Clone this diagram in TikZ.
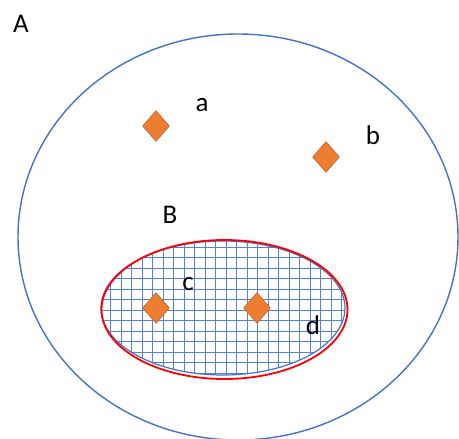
\documentclass[tikz,border=0pt]{standalone}
\usepackage{fontspec}
\setmainfont{Carlito}
\usetikzlibrary{shapes.geometric}
\definecolor{setblue}{RGB}{68,114,196}
\definecolor{meshblue}{RGB}{82,130,218}
\definecolor{gemfill}{RGB}{237,125,49}
\definecolor{gemedge}{RGB}{174,90,33}
\tikzset{
  gem/.style={diamond,draw=gemedge,fill=gemfill,inner sep=0pt,minimum width=27pt,minimum height=31pt},
  lbl/.style={font=\fontsize{27}{27}\selectfont,inner sep=0pt}
}
\begin{document}
\begin{tikzpicture}[x=1pt,y=-1pt]
	\useasboundingbox (0,0) rectangle (459,439);
	\node[ellipse,draw=setblue,line width=1.4pt,minimum width=440pt,minimum height=406pt] (A) at (238,237) {};
	% mesh inside B, drawn relative to the node centre
	\node[ellipse,draw=setblue,line width=1.2pt,minimum width=244pt,minimum height=134pt,
		path picture={
			\foreach \i in {-12,...,12}
				\draw[meshblue,line width=0.95pt] (3+10.5*\i,-80) -- (3+10.5*\i,80);
			\foreach \j in {-7,...,7}
				\draw[meshblue,line width=0.95pt] (-130,2+10.5*\j) -- (130,2+10.5*\j);
		}] (B) at (223,308) {};
	\node[ellipse,draw=red,line width=1.8pt,minimum width=246pt,minimum height=139pt] (r) at (224.5,309.5) {};
	\node[gem] (ga) at (156,126) {};
	\node[gem] (gb) at (326,157) {};
	\node[gem] (gc) at (156,308) {};
	\node[gem] (gd) at (257,308) {};
	\node[lbl] (lA) at (21,24) {A};
	\node[lbl] (la) at (202,105) {a};
	\node[lbl] (lb) at (373,135) {b};
	\node[lbl] (lB) at (170,215) {B};
	\node[lbl] (lc) at (188,284) {c};
	\node[lbl] (ld) at (313,325) {d};
\end{tikzpicture}
\end{document}
